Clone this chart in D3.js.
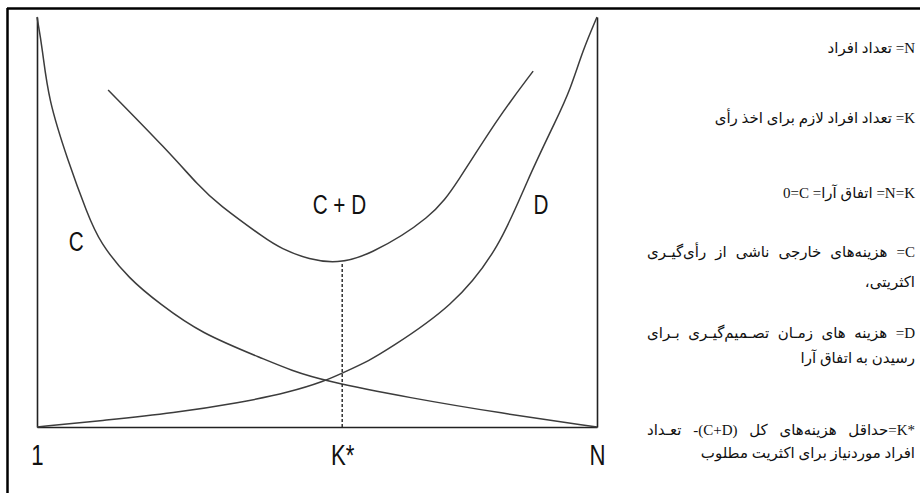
<!DOCTYPE html>
<html>
<head>
<meta charset="utf-8">
<script src="https://cdn.jsdelivr.net/npm/d3@7"></script>
<style>
  body { margin: 0; background: #fff; }
  #wrap { position: relative; width: 920px; height: 493px; overflow: hidden; }
  .note {
    position: absolute; left: 647px; width: 268px;
    font-family: "Liberation Serif", "DejaVu Sans", serif;
    font-size: 15px; line-height: 20px; color: #111;
    direction: rtl; unicode-bidi: bidi-override; text-align: right;
  }
  .note.just { text-align: justify; text-align-last: justify; }
  .lbl { font-family: "Liberation Sans", Arial, sans-serif; fill: #111; }
</style>
</head>
<body>
<div id="wrap"></div>
<script>
// x: 0 = one person (1) .. 100 = everybody (N); y: cost, 0 at the bottom .. 100 at the top
var cX  = [0, 1, 2, 5.5, 9, 11.2, 16.5, 22, 29, 41, 45.2, 51.4, 66.6, 82.7, 100];
var cY  = [100, 92, 80, 65, 52, 45, 36, 30, 23, 16.3, 13.9, 11.2, 7.1, 3.4, 0];

var dX  = [0, 12.5, 24.3, 36.2, 45.2, 51.4, 54.6, 59.5, 62.5, 74.3, 82.7, 87.5, 92.9, 95.2, 97.5, 100];
var dY  = [0, 1.7, 3.4, 5.9, 8.5, 11.2, 13.2, 16.3, 18.8, 29.3, 43.9, 60.2, 75.4, 82.2, 92, 100];

var cdX = [12.7, 23.2, 29.1, 32.1, 41.1, 43.4, 48.7, 53.6, 58.9, 70.7, 75, 82.3, 88.6];
var cdY = [82.2, 67.6, 58.5, 54.6, 45.6, 43.7, 40.7, 40, 41.5, 51.2, 59.5, 75.4, 86.8];

var kStar = 54.5;
var xTicks = [0, kStar, 100];
var xTickLabels = ["1", "K*", "N"];

var curveLabels = ["C", "C + D", "D"];
var curveLabelAt = [[7, 43], [54, 52], [90, 52]];

// notes on the right, written in the order they are laid out right to left
var noteLines = [
  "N= تعداد افراد",
  "K= تعداد افراد لازم برای اخذ رأی",
  "K=N= اتفاق آرا= C=0",
  "C= هزینه‌های خارجی ناشی از رأی‌گیـری",
  "اکثریتی،",
  "D= هزینه های زمـان تصـمیم‌گیـری بـرای",
  "رسیدن به اتفاق آرا",
  "*K=حداقل هزینه‌های کل (D+C)- تعـداد",
  "افراد موردنیاز برای اکثریت مطلوب"
];
var noteJustified = [false, false, false, true, false, true, false, true, false];
var noteCenterY = [48, 118, 193, 252, 282, 333, 358, 430, 453];

var width = 920, height = 493;
var narrow = 0.74; // the labels are set in a condensed sans

var wrap = d3.select("#wrap");
var svg = wrap.append("svg")
  .attr("width", width)
  .attr("height", height)
  .style("position", "absolute")
  .style("left", 0)
  .style("top", 0);

// page frame (top and left edge of the box)
svg.append("line").attr("x1", 7).attr("x2", width).attr("y1", 8.5).attr("y2", 8.5)
  .attr("stroke", "#000").attr("stroke-width", 2.5);
svg.append("line").attr("x1", 7.5).attr("x2", 7.5).attr("y1", 8).attr("y2", height)
  .attr("stroke", "#000").attr("stroke-width", 2.5);

var x = d3.scaleLinear().domain([0, 100]).range([37, 597]);
var y = d3.scaleLinear().domain([0, 100]).range([427, 17]);

// axes
var xAxis = svg.append("g")
  .attr("transform", "translate(0," + y(0) + ")")
  .call(d3.axisBottom(x).tickValues(xTicks).tickSize(0).tickSizeOuter(0).tickPadding(17)
    .tickFormat(function(d, i) { return xTickLabels[i]; }));
xAxis.select(".domain").attr("stroke", "#222").attr("stroke-width", 1.6);
xAxis.selectAll("text")
  .attr("class", "lbl")
  .attr("fill", "#111")
  .attr("transform", "scale(" + narrow + ",1)")
  .style("font-size", "30px");

svg.append("g")
  .attr("transform", "translate(" + x(0) + ",0)")
  .call(d3.axisLeft(y).tickValues([]).tickSizeOuter(0))
  .select(".domain").attr("stroke", "#222").attr("stroke-width", 1.6);

svg.append("g")
  .attr("transform", "translate(" + x(100) + ",0)")
  .call(d3.axisRight(y).tickValues([]).tickSizeOuter(0))
  .select(".domain").attr("stroke", "#222").attr("stroke-width", 1.6);

// curves
var line = d3.line()
  .x(function(d) { return x(d[0]); })
  .y(function(d) { return y(d[1]); })
  .curve(d3.curveBasis);

var series = [d3.zip(cX, cY), d3.zip(dX, dY), d3.zip(cdX, cdY)];
svg.selectAll("path.curve")
  .data(series)
  .enter()
  .append("path")
  .attr("class", "curve")
  .attr("d", line)
  .attr("fill", "none")
  .attr("stroke", "#3c3c3c")
  .attr("stroke-width", 1.5);

// K* dashed drop line
svg.append("line")
  .attr("x1", x(kStar)).attr("x2", x(kStar))
  .attr("y1", y(d3.min(cdY)) + 1).attr("y2", y(0))
  .attr("stroke", "#222")
  .attr("stroke-width", 1.4)
  .attr("stroke-dasharray", "3,2");

// curve names
svg.selectAll("text.curveName")
  .data(curveLabels)
  .enter()
  .append("text")
  .attr("class", "lbl curveName")
  .attr("transform", function(d, i) {
    return "translate(" + x(curveLabelAt[i][0]) + "," + y(curveLabelAt[i][1]) + ") scale(" + narrow + ",1)";
  })
  .attr("text-anchor", "middle")
  .style("font-size", "28px")
  .text(function(d) { return d; });

// notes
wrap.selectAll("div.note")
  .data(noteLines)
  .enter()
  .append("div")
  .attr("class", function(d, i) { return noteJustified[i] ? "note just" : "note"; })
  .style("top", function(d, i) { return (noteCenterY[i] - 10) + "px"; })
  .text(function(d) { return d; });
</script>
</body>
</html>
